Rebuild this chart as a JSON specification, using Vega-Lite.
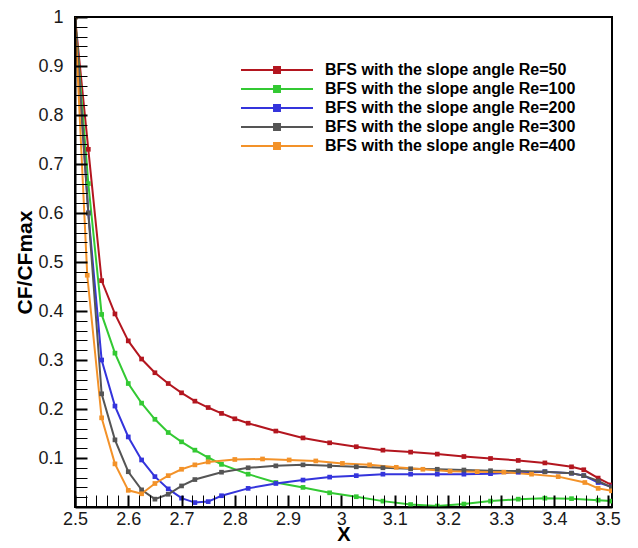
{
  "$schema": "https://vega.github.io/schema/vega-lite/v6.json",
  "width": 537,
  "height": 490,
  "autosize": "none",
  "padding": {"left": 75, "top": 17, "right": 26, "bottom": 41},
  "background": "white",
  "config": {
    "view": {"stroke": "black", "strokeWidth": 2},
    "font": "Liberation Sans"
  },
  "data": {
    "values": [
      {"Re": "50", "x": 2.5, "y": 1.0},
      {"Re": "50", "x": 2.525, "y": 0.73},
      {"Re": "50", "x": 2.55, "y": 0.462},
      {"Re": "50", "x": 2.575, "y": 0.394},
      {"Re": "50", "x": 2.6, "y": 0.339},
      {"Re": "50", "x": 2.625, "y": 0.302},
      {"Re": "50", "x": 2.65, "y": 0.274},
      {"Re": "50", "x": 2.675, "y": 0.252},
      {"Re": "50", "x": 2.7, "y": 0.233},
      {"Re": "50", "x": 2.725, "y": 0.216},
      {"Re": "50", "x": 2.75, "y": 0.203},
      {"Re": "50", "x": 2.775, "y": 0.191},
      {"Re": "50", "x": 2.8, "y": 0.18},
      {"Re": "50", "x": 2.825, "y": 0.171},
      {"Re": "50", "x": 2.877, "y": 0.155},
      {"Re": "50", "x": 2.928, "y": 0.141},
      {"Re": "50", "x": 2.978, "y": 0.131},
      {"Re": "50", "x": 3.028, "y": 0.123},
      {"Re": "50", "x": 3.078, "y": 0.116},
      {"Re": "50", "x": 3.13, "y": 0.112},
      {"Re": "50", "x": 3.18, "y": 0.108},
      {"Re": "50", "x": 3.23, "y": 0.103},
      {"Re": "50", "x": 3.28, "y": 0.099},
      {"Re": "50", "x": 3.332, "y": 0.095},
      {"Re": "50", "x": 3.382, "y": 0.09},
      {"Re": "50", "x": 3.432, "y": 0.082},
      {"Re": "50", "x": 3.455, "y": 0.076},
      {"Re": "50", "x": 3.482, "y": 0.059},
      {"Re": "50", "x": 3.507, "y": 0.045},

      {"Re": "100", "x": 2.5, "y": 1.0},
      {"Re": "100", "x": 2.525, "y": 0.66},
      {"Re": "100", "x": 2.55, "y": 0.393},
      {"Re": "100", "x": 2.575, "y": 0.314},
      {"Re": "100", "x": 2.6, "y": 0.252},
      {"Re": "100", "x": 2.625, "y": 0.212},
      {"Re": "100", "x": 2.65, "y": 0.179},
      {"Re": "100", "x": 2.675, "y": 0.152},
      {"Re": "100", "x": 2.7, "y": 0.133},
      {"Re": "100", "x": 2.725, "y": 0.116},
      {"Re": "100", "x": 2.75, "y": 0.101},
      {"Re": "100", "x": 2.775, "y": 0.087},
      {"Re": "100", "x": 2.825, "y": 0.067},
      {"Re": "100", "x": 2.877, "y": 0.05},
      {"Re": "100", "x": 2.928, "y": 0.04},
      {"Re": "100", "x": 2.978, "y": 0.029},
      {"Re": "100", "x": 3.028, "y": 0.021},
      {"Re": "100", "x": 3.078, "y": 0.012},
      {"Re": "100", "x": 3.13, "y": 0.005},
      {"Re": "100", "x": 3.18, "y": 0.002},
      {"Re": "100", "x": 3.23, "y": 0.006},
      {"Re": "100", "x": 3.28, "y": 0.012},
      {"Re": "100", "x": 3.332, "y": 0.016},
      {"Re": "100", "x": 3.382, "y": 0.018},
      {"Re": "100", "x": 3.432, "y": 0.017},
      {"Re": "100", "x": 3.482, "y": 0.014},
      {"Re": "100", "x": 3.507, "y": 0.012},

      {"Re": "200", "x": 2.5, "y": 1.0},
      {"Re": "200", "x": 2.525, "y": 0.6},
      {"Re": "200", "x": 2.55, "y": 0.3},
      {"Re": "200", "x": 2.575, "y": 0.206},
      {"Re": "200", "x": 2.6, "y": 0.143},
      {"Re": "200", "x": 2.625, "y": 0.096},
      {"Re": "200", "x": 2.65, "y": 0.062},
      {"Re": "200", "x": 2.675, "y": 0.037},
      {"Re": "200", "x": 2.7, "y": 0.018},
      {"Re": "200", "x": 2.725, "y": 0.009},
      {"Re": "200", "x": 2.75, "y": 0.011},
      {"Re": "200", "x": 2.775, "y": 0.023},
      {"Re": "200", "x": 2.825, "y": 0.038},
      {"Re": "200", "x": 2.877, "y": 0.048},
      {"Re": "200", "x": 2.928, "y": 0.055},
      {"Re": "200", "x": 2.978, "y": 0.061},
      {"Re": "200", "x": 3.028, "y": 0.064},
      {"Re": "200", "x": 3.078, "y": 0.067},
      {"Re": "200", "x": 3.13, "y": 0.067},
      {"Re": "200", "x": 3.18, "y": 0.067},
      {"Re": "200", "x": 3.23, "y": 0.067},
      {"Re": "200", "x": 3.28, "y": 0.068},
      {"Re": "200", "x": 3.332, "y": 0.071},
      {"Re": "200", "x": 3.382, "y": 0.072},
      {"Re": "200", "x": 3.432, "y": 0.069},
      {"Re": "200", "x": 3.455, "y": 0.064},
      {"Re": "200", "x": 3.482, "y": 0.05},
      {"Re": "200", "x": 3.507, "y": 0.041},

      {"Re": "300", "x": 2.5, "y": 1.0},
      {"Re": "300", "x": 2.525, "y": 0.6},
      {"Re": "300", "x": 2.55, "y": 0.231},
      {"Re": "300", "x": 2.575, "y": 0.137},
      {"Re": "300", "x": 2.6, "y": 0.072},
      {"Re": "300", "x": 2.625, "y": 0.035},
      {"Re": "300", "x": 2.65, "y": 0.016},
      {"Re": "300", "x": 2.675, "y": 0.026},
      {"Re": "300", "x": 2.7, "y": 0.043},
      {"Re": "300", "x": 2.725, "y": 0.056},
      {"Re": "300", "x": 2.775, "y": 0.071},
      {"Re": "300", "x": 2.825, "y": 0.08},
      {"Re": "300", "x": 2.877, "y": 0.084},
      {"Re": "300", "x": 2.928, "y": 0.086},
      {"Re": "300", "x": 2.978, "y": 0.084},
      {"Re": "300", "x": 3.028, "y": 0.082},
      {"Re": "300", "x": 3.078, "y": 0.08},
      {"Re": "300", "x": 3.13, "y": 0.078},
      {"Re": "300", "x": 3.18, "y": 0.077},
      {"Re": "300", "x": 3.23, "y": 0.0755},
      {"Re": "300", "x": 3.28, "y": 0.074},
      {"Re": "300", "x": 3.332, "y": 0.0735},
      {"Re": "300", "x": 3.382, "y": 0.072},
      {"Re": "300", "x": 3.432, "y": 0.069},
      {"Re": "300", "x": 3.455, "y": 0.064},
      {"Re": "300", "x": 3.482, "y": 0.053},
      {"Re": "300", "x": 3.507, "y": 0.04},

      {"Re": "400", "x": 2.5, "y": 1.0},
      {"Re": "400", "x": 2.523, "y": 0.473},
      {"Re": "400", "x": 2.55, "y": 0.182},
      {"Re": "400", "x": 2.575, "y": 0.088},
      {"Re": "400", "x": 2.6, "y": 0.034},
      {"Re": "400", "x": 2.625, "y": 0.027},
      {"Re": "400", "x": 2.65, "y": 0.048},
      {"Re": "400", "x": 2.675, "y": 0.064},
      {"Re": "400", "x": 2.7, "y": 0.077},
      {"Re": "400", "x": 2.725, "y": 0.086},
      {"Re": "400", "x": 2.75, "y": 0.092},
      {"Re": "400", "x": 2.8, "y": 0.097},
      {"Re": "400", "x": 2.852, "y": 0.098},
      {"Re": "400", "x": 2.902, "y": 0.096},
      {"Re": "400", "x": 2.952, "y": 0.094},
      {"Re": "400", "x": 3.002, "y": 0.089},
      {"Re": "400", "x": 3.053, "y": 0.086},
      {"Re": "400", "x": 3.103, "y": 0.081},
      {"Re": "400", "x": 3.153, "y": 0.077},
      {"Re": "400", "x": 3.204, "y": 0.073},
      {"Re": "400", "x": 3.255, "y": 0.072},
      {"Re": "400", "x": 3.305, "y": 0.071},
      {"Re": "400", "x": 3.357, "y": 0.067},
      {"Re": "400", "x": 3.407, "y": 0.062},
      {"Re": "400", "x": 3.457, "y": 0.05},
      {"Re": "400", "x": 3.482, "y": 0.038},
      {"Re": "400", "x": 3.507, "y": 0.033}
    ]
  },
  "mark": {
    "type": "line",
    "strokeWidth": 2,
    "clip": true,
    "point": {"shape": "square", "size": 22, "filled": true}
  },
  "encoding": {
    "x": {
      "field": "x",
      "type": "quantitative",
      "scale": {"domain": [2.5, 3.508], "nice": false, "zero": false},
      "axis": {
        "zindex": 1,
        "ticks": true,
        "title": "X",
        "titleFont": "Liberation Sans",
        "titleFontSize": 20,
        "titleFontWeight": "bold",
        "titleColor": "black",
        "titlePadding": -4,
        "values": [2.5,2.52,2.54,2.56,2.58,2.6,2.62,2.64,2.66,2.68,2.7,2.72,2.74,2.76,2.78,2.8,2.82,2.84,2.86,2.88,2.9,2.92,2.94,2.96,2.98,3.0,3.02,3.04,3.06,3.08,3.1,3.12,3.14,3.16,3.18,3.2,3.22,3.24,3.26,3.28,3.3,3.32,3.34,3.36,3.38,3.4,3.42,3.44,3.46,3.48,3.5],
        "labelExpr": "abs(datum.value*10-round(datum.value*10))<0.001 ? format(datum.value,'.1~f') : ''",
        "tickSize": -12,
        "tickWidth": {"condition": {"test": "abs(datum.value*10-round(datum.value*10))<0.001", "value": 2}, "value": 1},
        "tickColor": "black",
        "domainColor": "black",
        "domainWidth": 2,
        "grid": false,
        "labelFont": "Liberation Sans",
        "labelFontSize": 18,
        "labelColor": "#1a1a1a",
        "labelPadding": 15,
        "labelFlush": false,
        "labelOverlap": false
      }
    },
    "y": {
      "field": "y",
      "type": "quantitative",
      "scale": {"domain": [0, 1], "nice": false},
      "axis": {
        "zindex": 1,
        "ticks": true,
        "title": "CF/CFmax",
        "titleFont": "Liberation Sans",
        "titleFontSize": 21,
        "titleFontWeight": "bold",
        "titleColor": "black",
        "titlePadding": 2,
        "values": [0.02,0.04,0.06,0.08,0.1,0.12,0.14,0.16,0.18,0.2,0.22,0.24,0.26,0.28,0.3,0.32,0.34,0.36,0.38,0.4,0.42,0.44,0.46,0.48,0.5,0.52,0.54,0.56,0.58,0.6,0.62,0.64,0.66,0.68,0.7,0.72,0.74,0.76,0.78,0.8,0.82,0.84,0.86,0.88,0.9,0.92,0.94,0.96,0.98,1.0],
        "labelExpr": "abs(datum.value*10-round(datum.value*10))<0.001 ? format(datum.value,'.1~f') : ''",
        "tickSize": -12,
        "tickWidth": {"condition": {"test": "abs(datum.value*10-round(datum.value*10))<0.001", "value": 2}, "value": 1},
        "tickColor": "black",
        "domainColor": "black",
        "domainWidth": 2,
        "grid": false,
        "labelFont": "Liberation Sans",
        "labelFontSize": 18,
        "labelColor": "#1a1a1a",
        "labelPadding": 24,
        "labelFlush": false,
        "labelOverlap": false
      }
    },
    "color": {
      "field": "Re",
      "type": "nominal",
      "sort": ["50", "100", "200", "300", "400"],
      "scale": {
        "domain": ["50", "100", "200", "300", "400"],
        "range": ["#b3161f", "#33c933", "#3434dc", "#555555", "#f39229"]
      },
      "legend": {
        "orient": "none",
        "legendX": 192,
        "legendY": 43,
        "title": null,
        "symbolType": "M-4,0H4M-0.33,-0.33H0.33V0.33H-0.33Z",
        "symbolSize": 324,
        "symbolStrokeWidth": 2,
        "labelFont": "Liberation Sans",
        "labelFontWeight": "bold",
        "labelFontSize": 16,
        "labelColor": "black",
        "labelOffset": 38,
        "labelLimit": 0,
        "rowPadding": 1,
        "labelExpr": "'BFS with the slope angle Re=' + datum.label",
        "encode": {
          "symbols": {
            "update": {
              "fill": {"scale": "color", "field": "value"},
              "stroke": {"scale": "color", "field": "value"}
            }
          }
        }
      }
    }
  }
}
